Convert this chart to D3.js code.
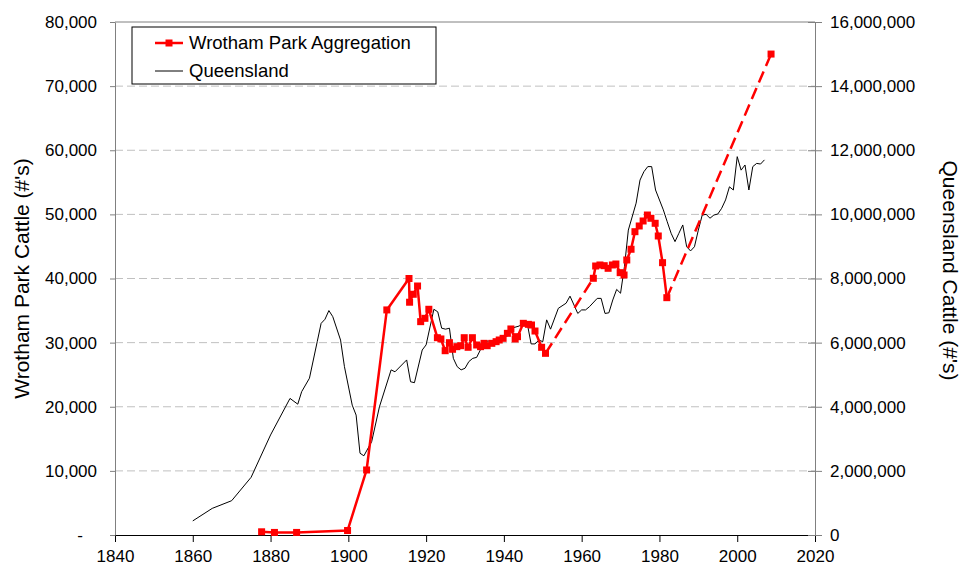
<!DOCTYPE html>
<html>
<head>
<meta charset="utf-8">
<script src="https://cdn.jsdelivr.net/npm/d3@7"></script>
<style>
    body { margin: 0; background: #fff; }
    svg { display: block; font-family: "Liberation Sans", Arial, sans-serif; }
</style>
</head>
<body>
<svg id="chart" width="964" height="572"></svg>
<script>
// Wrotham Park aggregation (left axis, head of cattle)
var wpYears = [1877.7, 1881, 1886.7, 1899.8, 1904.7, 1909.9, 1915.6, 1915.75, 1916.7, 1917.8, 1918.6, 1919.7,
    1920.7, 1922.9, 1923.8, 1924.9, 1926, 1926.8, 1927.9, 1928.9, 1929.8, 1930.8, 1931.9, 1933, 1934,
    1934.9, 1935.7, 1936.9, 1938, 1938.8, 1939.8, 1940.9, 1941.8, 1942.9, 1943.5, 1945, 1946.3, 1947.1,
    1948, 1949.7, 1950.7, 1963, 1963.6, 1964.7, 1965.8, 1966.8, 1967.9, 1968.8, 1969.9, 1970.9, 1971.6,
    1972.7, 1973.7, 1974.8, 1975.8, 1976.9, 1977.8, 1978.9, 1979.7, 1980.8, 1981.9, 2008.7];
var wpCattle = [500, 400, 400, 700, 10140, 35100, 40000, 36300, 37540, 38830, 33270, 33790,
    35200, 30770, 30570, 28740, 29990, 28960, 29370, 29520, 30770, 29270, 30770, 29630, 29370,
    29890, 29520, 29890, 30150, 30410, 30670, 31450, 32130, 30570, 30930, 33010, 32850, 32750,
    31810, 29270, 28330, 40030, 41950, 42110, 42000, 41590, 42110, 42260, 40910, 40550, 42890,
    44560, 47300, 48190, 48970, 49900, 49390, 48610, 46630, 42470, 37010, 75000];
// links leaving these years are drawn dashed (gaps in the record)
var wpDashedFrom = [1950.7, 1981.9];

// Queensland herd (right axis, head of cattle)
var qldYears = [1860, 1865, 1870, 1875, 1880, 1885, 1887, 1888, 1890, 1892, 1893, 1894, 1895, 1896, 1898,
    1899, 1901, 1902, 1903, 1904, 1906, 1908, 1911, 1912, 1915, 1916, 1917, 1919, 1920, 1922, 1923,
    1924, 1925, 1926, 1927, 1928, 1929, 1930, 1931, 1932, 1933, 1935, 1936, 1937, 1939, 1940, 1941,
    1942, 1944, 1945, 1946, 1947, 1948, 1949, 1950, 1951, 1952, 1954, 1956, 1957, 1959, 1960, 1961,
    1962, 1964, 1965, 1966, 1967, 1968, 1969, 1970, 1971, 1972, 1974, 1975, 1976, 1977, 1978, 1979,
    1981, 1982, 1983, 1984, 1985, 1986, 1987, 1988, 1989, 1990, 1991, 1992, 1993, 1994, 1995, 1996,
    1997, 1998, 1999, 2000, 2001, 2002, 2003, 2004, 2005, 2006, 2007];
var qldCattle = [0.44, 0.83, 1.07, 1.80, 3.12, 4.26, 4.08, 4.47, 4.89, 6.03, 6.60, 6.73, 7.00, 6.81, 6.08,
    5.25, 4.05, 3.74, 2.55, 2.47, 2.91, 4.00, 5.15, 5.09, 5.46, 4.78, 4.75, 5.77, 5.93, 7.04, 6.96,
    6.45, 6.42, 6.45, 5.51, 5.25, 5.15, 5.20, 5.41, 5.51, 5.54, 6.03, 6.05, 5.93, 6.03, 6.19, 6.21,
    6.45, 6.52, 6.65, 6.60, 5.96, 5.96, 6.08, 6.03, 6.71, 6.42, 7.07, 7.23, 7.45, 6.91, 7.02, 7.02,
    7.12, 7.38, 7.38, 6.91, 6.93, 7.33, 7.66, 7.54, 8.37, 9.51, 10.35, 11.07, 11.33, 11.49, 11.49, 10.76,
    10.14, 9.77, 9.41, 9.15, 9.41, 9.67, 8.99, 8.86, 8.99, 9.51, 9.98, 10.00, 9.88, 9.98, 10.01, 10.19,
    10.45, 10.86, 10.76, 11.80, 11.38, 11.54, 10.76, 11.49, 11.59, 11.57, 11.70].map(function(m) { return m * 1e6; });

var yearTicks = [1840, 1860, 1880, 1900, 1920, 1940, 1960, 1980, 2000, 2020];
var leftTicks = [0, 10000, 20000, 30000, 40000, 50000, 60000, 70000, 80000];
var rightTicks = [0, 2e6, 4e6, 6e6, 8e6, 10e6, 12e6, 14e6, 16e6];

var svg = d3.select("#chart");
var margin = { top: 22, right: 149, bottom: 37, left: 115 };
var width = +svg.attr("width") - margin.left - margin.right;
var height = +svg.attr("height") - margin.top - margin.bottom;
var g = svg.append("g").attr("transform", "translate(" + margin.left + "," + margin.top + ")");

var x = d3.scaleLinear().domain([1840, 2020]).range([0, width]);
var yLeft = d3.scaleLinear().domain([0, 80000]).range([height, 0]);
var yRight = d3.scaleLinear().domain([0, 16e6]).range([height, 0]);

// Gridlines
g.append("g")
    .selectAll("line")
    .data(leftTicks.filter(function(d) { return d > 0 && d < 80000; }))
    .enter().append("line")
    .attr("x1", 0)
    .attr("x2", width)
    .attr("y1", function(d) { return yLeft(d); })
    .attr("y2", function(d) { return yLeft(d); })
    .attr("stroke", "#c0c0c0")
    .attr("stroke-width", 1)
    .attr("stroke-dasharray", "8,4");

// top border
g.append("line")
    .attr("x1", 0).attr("x2", width)
    .attr("y1", 0).attr("y2", 0)
    .attr("stroke", "#808080");

var fontSize = "17px";

// Attach X Axis
var xAxis = g.append("g")
    .attr("transform", "translate(0," + height + ")")
    .call(d3.axisBottom(x).tickValues(yearTicks).tickFormat(d3.format("d")).tickSize(7).tickPadding(8).tickSizeOuter(0));
xAxis.select(".domain").attr("stroke", "#000");
xAxis.selectAll("text").style("font-size", fontSize).attr("fill", "#000");

// Attach Left Axis
var leftAxis = g.append("g")
    .call(d3.axisLeft(yLeft).tickValues(leftTicks).tickSize(5).tickPadding(13).tickSizeOuter(0)
        .tickFormat(function(d) { return d === 0 ? "-   " : d3.format(",")(d); }));
leftAxis.select(".domain").attr("stroke", "#808080");
leftAxis.selectAll(".tick line").attr("stroke", "#808080");
leftAxis.selectAll("text").style("font-size", fontSize).attr("fill", "#000").attr("xml:space", "preserve").style("white-space", "pre");

// Attach Right Axis
var rightAxis = g.append("g")
    .attr("transform", "translate(" + width + ",0)")
    .call(d3.axisRight(yRight).tickValues(rightTicks).tickSize(7).tickPadding(8).tickSizeOuter(0)
        .tickFormat(d3.format(",")));
rightAxis.select(".domain").attr("stroke", "#808080");
rightAxis.selectAll(".tick line").attr("stroke", "#808080").attr("x1", -7);
rightAxis.selectAll("text").style("font-size", fontSize).attr("fill", "#000");

// Axis titles
svg.append("text")
    .attr("transform", "translate(29," + (margin.top + height / 2) + ") rotate(-90)")
    .attr("text-anchor", "middle")
    .style("font-size", "21px")
    .text("Wrotham Park Cattle (#'s)");

svg.append("text")
    .attr("transform", "translate(943," + (margin.top + height / 2 - 8) + ") rotate(90)")
    .attr("text-anchor", "middle")
    .style("font-size", "21px")
    .text("Queensland Cattle (#'s)");

// Queensland line
var qldData = qldYears.map(function(d, i) { return { year: d, value: qldCattle[i] }; });
var qldLine = d3.line()
    .x(function(d) { return x(d.year); })
    .y(function(d) { return yRight(d.value); });

g.append("path")
    .datum(qldData)
    .attr("fill", "none")
    .attr("stroke", "#000")
    .attr("stroke-width", 1)
    .attr("d", qldLine);

// Wrotham Park line, split into solid and dashed runs
var wpData = wpYears.map(function(d, i) { return { year: d, value: wpCattle[i] }; });
var runs = [];
for (var i = 1; i < wpData.length; i++) {
    var dashed = wpDashedFrom.indexOf(wpData[i - 1].year) >= 0;
    var last = runs[runs.length - 1];
    if (last && last.dashed === dashed) {
        last.points.push(wpData[i]);
    } else {
        runs.push({ dashed: dashed, points: [wpData[i - 1], wpData[i]] });
    }
}

var wpLine = d3.line()
    .x(function(d) { return x(d.year); })
    .y(function(d) { return yLeft(d.value); });

g.append("g")
    .selectAll("path")
    .data(runs)
    .enter().append("path")
    .attr("fill", "none")
    .attr("stroke", "#ff0000")
    .attr("stroke-width", 2.5)
    .attr("stroke-linejoin", "round")
    .attr("stroke-dasharray", function(d) { return d.dashed ? "12,6" : null; })
    .attr("d", function(d) { return wpLine(d.points); });

var markerSize = 7;
g.append("g")
    .selectAll("rect")
    .data(wpData)
    .enter().append("rect")
    .attr("x", function(d) { return x(d.year) - markerSize / 2; })
    .attr("y", function(d) { return yLeft(d.value) - markerSize / 2; })
    .attr("width", markerSize)
    .attr("height", markerSize)
    .attr("fill", "#ff0000");

// Legend
var legend = svg.append("g").attr("transform", "translate(132,27)");
legend.append("rect")
    .attr("width", 304)
    .attr("height", 57)
    .attr("fill", "#fff")
    .attr("stroke", "#000")
    .attr("stroke-width", 1);

legend.append("line")
    .attr("x1", 23).attr("x2", 51).attr("y1", 16).attr("y2", 16)
    .attr("stroke", "#ff0000").attr("stroke-width", 2.5);
legend.append("rect")
    .attr("x", 37 - markerSize / 2).attr("y", 16 - markerSize / 2)
    .attr("width", markerSize).attr("height", markerSize)
    .attr("fill", "#ff0000");
legend.append("text")
    .attr("x", 57).attr("y", 16).attr("dy", "0.35em")
    .style("font-size", "18.5px")
    .text("Wrotham Park Aggregation");

legend.append("line")
    .attr("x1", 23).attr("x2", 51).attr("y1", 44).attr("y2", 44)
    .attr("stroke", "#000").attr("stroke-width", 1);
legend.append("text")
    .attr("x", 57).attr("y", 44).attr("dy", "0.35em")
    .style("font-size", "18.5px")
    .text("Queensland");
</script>
</body>
</html>
